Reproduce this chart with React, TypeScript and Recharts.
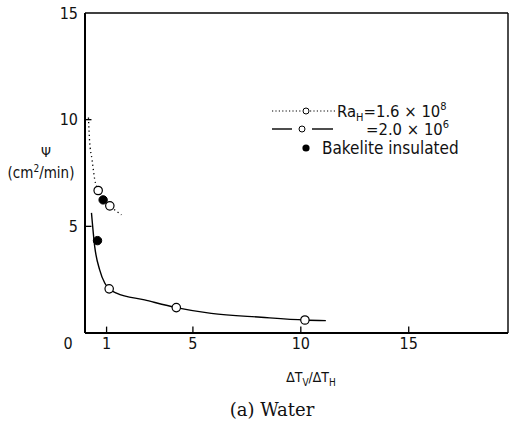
import React from 'react';
import {
  ComposedChart,
  Line,
  Scatter,
  XAxis,
  YAxis,
  ReferenceLine,
} from 'recharts';

// Curve traced through the Ra_H = 1.6 × 10^8 data (dotted)
const dottedCurve = [
  { x: 0.16, y: 10.1 },
  { x: 0.21, y: 9.05 },
  { x: 0.33, y: 8.1 },
  { x: 0.45, y: 7.2 },
  { x: 0.61, y: 6.68 },
  { x: 0.85, y: 6.25 },
  { x: 1.15, y: 5.96 },
  { x: 1.69, y: 5.54 },
];
const dottedPoints = [
  { x: 0.61, y: 6.68 },
  { x: 1.15, y: 5.96 },
];

// Curve traced through the Ra_H = 2.0 × 10^6 data (solid)
const solidCurve = [
  { x: 0.3, y: 5.63 },
  { x: 0.45, y: 4.05 },
  { x: 0.68, y: 2.96 },
  { x: 0.92, y: 2.33 },
  { x: 1.12, y: 2.07 },
  { x: 1.46, y: 1.87 },
  { x: 2.76, y: 1.55 },
  { x: 4.23, y: 1.19 },
  { x: 5.85, y: 0.92 },
  { x: 8.16, y: 0.74 },
  { x: 10.19, y: 0.61 },
  { x: 11.16, y: 0.58 },
];
const solidPoints = [
  { x: 1.12, y: 2.07 },
  { x: 4.23, y: 1.19 },
  { x: 10.19, y: 0.61 },
];

// Bakelite insulated (filled)
const bakelitePoints = [
  { x: 0.84, y: 6.24 },
  { x: 0.58, y: 4.33 },
];

const xTicks = [0, 1, 5, 10, 15];
const yTicks = [5, 10, 15];
const xInnerTicks = [1, 5, 10, 15];
const yInnerTicks = [5, 10];
const xMax = 19.6;
const yMax = 15;

const FONT = "'DejaVu Sans Condensed', 'DejaVu Sans', sans-serif";

const OpenCircle = (props: any) => {
  const { cx, cy } = props;
  if (cx == null || cy == null) return null;
  return <circle cx={cx} cy={cy} r={4.2} fill="#fff" stroke="#000" strokeWidth={1.2} />;
};
const FilledCircle = (props: any) => {
  const { cx, cy } = props;
  if (cx == null || cy == null) return null;
  return <circle cx={cx} cy={cy} r={4.2} fill="#000" stroke="#000" strokeWidth={1} />;
};

const XTick = (props: any) => {
  const { x, y, payload } = props;
  const v = payload.value;
  return (
    <text
      x={x + (v === 0 ? -17 : 0)}
      y={y}
      dy="0.71em"
      textAnchor="middle"
      fontSize={16}
      fontFamily={FONT}
      fill="#111"
    >
      {v}
    </text>
  );
};

const YTick = (props: any) => {
  const { x, y, payload } = props;
  return (
    <text x={x} y={y} dy="0.36em" textAnchor="end" fontSize={16} fontFamily={FONT} fill="#111">
      {payload.value}
    </text>
  );
};

export default function App() {
  return (
    <div style={{ position: 'absolute', left: 0, top: 0, width: 518, height: 432, background: '#fff' }}>
      <ComposedChart
        width={518}
        height={432}
        margin={{ top: 13, right: 10, left: 25, bottom: 69 }}
      >
        <XAxis
          xAxisId={0}
          type="number"
          dataKey="x"
          domain={[0, xMax]}
          ticks={xTicks}
          interval={0}
          allowDataOverflow
          tick={<XTick />}
          tickLine={false}
          tickSize={0}
          tickMargin={5}
          height={30}
          axisLine={{ stroke: '#000', strokeWidth: 2 }}
        />
        <YAxis
          yAxisId={0}
          type="number"
          dataKey="y"
          domain={[0, yMax]}
          ticks={yTicks}
          interval={0}
          allowDataOverflow
          tick={<YTick />}
          tickLine={false}
          tickSize={0}
          tickMargin={7}
          width={60}
          axisLine={{ stroke: '#000', strokeWidth: 2 }}
        />
        <ReferenceLine xAxisId={0} yAxisId={0} y={yMax} stroke="#000" strokeWidth={1.6} ifOverflow="visible" />
        <ReferenceLine xAxisId={0} yAxisId={0} x={xMax} stroke="#000" strokeWidth={1.4} ifOverflow="visible" />
        {xInnerTicks.map((t) => (
          <ReferenceLine
            key={'xt' + t}
            xAxisId={0}
            yAxisId={0}
            ifOverflow="visible"
            segment={[{ x: t, y: 0 }, { x: t, y: 0.3 }]}
            stroke="#000"
            strokeWidth={1.3}
          />
        ))}
        {yInnerTicks.map((t) => (
          <ReferenceLine
            key={'yt' + t}
            xAxisId={0}
            yAxisId={0}
            ifOverflow="visible"
            segment={[{ x: 0, y: t }, { x: 0.3, y: t }]}
            stroke="#000"
            strokeWidth={1.3}
          />
        ))}
        <Line
          xAxisId={0}
          yAxisId={0}
          data={dottedCurve}
          dataKey="y"
          type="monotone"
          stroke="#000"
          strokeWidth={1.3}
          strokeDasharray="1.3 3"
          dot={false}
          activeDot={false}
          isAnimationActive={false}
        />
        <Line
          xAxisId={0}
          yAxisId={0}
          data={solidCurve}
          dataKey="y"
          type="monotone"
          stroke="#000"
          strokeWidth={1.4}
          dot={false}
          activeDot={false}
          isAnimationActive={false}
        />
        <Scatter
          xAxisId={0}
          yAxisId={0}
          data={dottedPoints}
          dataKey="y"
          shape={<OpenCircle />}
          isAnimationActive={false}
        />
        <Scatter
          xAxisId={0}
          yAxisId={0}
          data={solidPoints}
          dataKey="y"
          shape={<OpenCircle />}
          isAnimationActive={false}
        />
        <Scatter
          xAxisId={0}
          yAxisId={0}
          data={bakelitePoints}
          dataKey="y"
          shape={<FilledCircle />}
          isAnimationActive={false}
        />
      </ComposedChart>
      <svg
        width={518}
        height={432}
        style={{ position: 'absolute', left: 0, top: 0, pointerEvents: 'none' }}
      >
        {/* Y axis label */}
        <text x={46} y={157} textAnchor="middle" fontSize={14} fontFamily={FONT} fill="#111">Ψ</text>
        <text x={41} y={178} textAnchor="middle" fontSize={15} fontFamily={FONT} fill="#111">
          (cm<tspan dy={-6} fontSize={10}>2</tspan><tspan dy={6}>/min)</tspan>
        </text>
        {/* Legend */}
        <line x1={272} y1={111} x2={302} y2={111} stroke="#000" strokeWidth={1.2} strokeDasharray="1.2 2.2" />
        <circle cx={306} cy={111} r={3} fill="#fff" stroke="#000" strokeWidth={1} />
        <line x1={310} y1={111} x2={337} y2={111} stroke="#000" strokeWidth={1.2} strokeDasharray="1.2 2.2" />
        <text x={337} y={117} fontSize={16.5} fontFamily={FONT} fill="#111">
          Ra<tspan dy={4} fontSize={11}>H</tspan><tspan dy={-4}>=1.6 × 10</tspan><tspan dy={-7} fontSize={11}>8</tspan>
        </text>
        <line x1={272} y1={129} x2={292} y2={129} stroke="#000" strokeWidth={1.4} />
        <circle cx={302} cy={129} r={3} fill="#fff" stroke="#000" strokeWidth={1} />
        <line x1={312} y1={129} x2={333} y2={129} stroke="#000" strokeWidth={1.4} />
        <text x={366} y={135} fontSize={16.5} fontFamily={FONT} fill="#111">
          =2.0 × 10<tspan dy={-7} fontSize={11}>6</tspan>
        </text>
        <circle cx={306} cy={148} r={3.6} fill="#000" />
        <text x={322} y={154} fontSize={17} fontFamily={FONT} fill="#111">Bakelite insulated</text>
        {/* X axis title */}
        <text x={311} y={382} textAnchor="middle" fontSize={14} fontFamily={FONT} fill="#111">
          ∆T<tspan dy={4} fontSize={10}>V</tspan><tspan dy={-4}>/∆T</tspan><tspan dy={4} fontSize={10}>H</tspan>
        </text>
        {/* Caption */}
        <text x={272} y={416} textAnchor="middle" fontSize={18} fontFamily="'DejaVu Serif', 'Liberation Serif', serif" fill="#111">
          (a)  Water
        </text>
      </svg>
    </div>
  );
}
